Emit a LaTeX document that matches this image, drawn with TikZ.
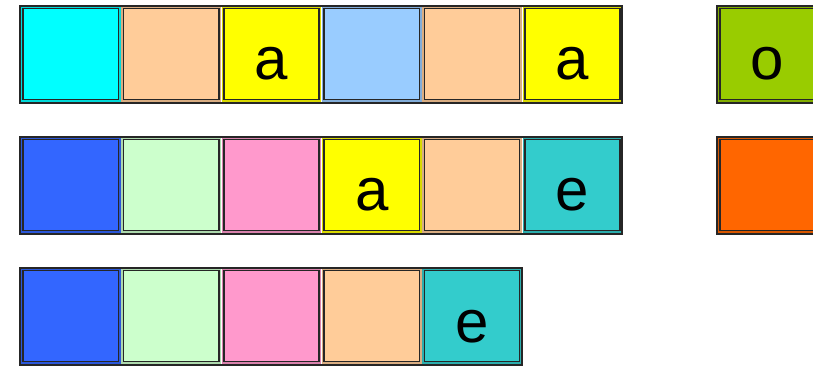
\documentclass[tikz,border=0pt]{standalone}
\usepackage{fontspec}
\setmainfont{Liberation Sans}
\usetikzlibrary{positioning}

\definecolor{aqua}{HTML}{00FFFF}
\definecolor{peach}{HTML}{FFCC99}
\definecolor{lemon}{HTML}{FFFF00}
\definecolor{sky}{HTML}{99CCFF}
\definecolor{royal}{HTML}{3366FF}
\definecolor{mint}{HTML}{CCFFCC}
\definecolor{rose}{HTML}{FF99CC}
\definecolor{teal}{HTML}{33CCCC}
\definecolor{lime}{HTML}{99CC00}
\definecolor{tangerine}{HTML}{FF6600}
\definecolor{rim}{HTML}{262626}

\begin{document}
\begin{tikzpicture}[
  x=1pt, y=-1pt,
  node distance=5.1pt,
  cell/.style={draw=rim, line width=1.6pt, fill=#1, preaction={draw=#1!85!black, line width=4.4pt},
    minimum width=95.2pt, minimum height=90.8pt, outer sep=0pt, inner sep=0pt,
    text height=52pt, text depth=0pt, font=\fontsize{60}{66}\selectfont},
  frame/.style={draw=rim, line width=2pt}
]
  \useasboundingbox (0,0) rectangle (813,366);

  % first row
  \node[cell=aqua] (c11) at (70.8,54) {};
  \node[cell=peach, right=of c11] (c12) {};
  \node[cell=lemon, right=of c12] (c13) {a};
  \node[cell=sky, right=of c13] (c14) {};
  \node[cell=peach, right=of c14] (c15) {};
  \node[cell=lemon, right=of c15] (c16) {a};

  % second row
  \node[cell=royal] (c21) at (70.8,185) {};
  \node[cell=mint, right=of c21] (c22) {};
  \node[cell=rose, right=of c22] (c23) {};
  \node[cell=lemon, right=of c23] (c24) {a};
  \node[cell=peach, right=of c24] (c25) {};
  \node[cell=teal, right=of c25] (c26) {e};

  % third row
  \node[cell=royal] (c31) at (70.8,316) {};
  \node[cell=mint, right=of c31] (c32) {};
  \node[cell=rose, right=of c32] (c33) {};
  \node[cell=peach, right=of c33] (c34) {};
  \node[cell=teal, right=of c34] (c35) {e};

  % single cells on the right
  \node[cell=lime] (r1) at (767.6,54) {o};
  \node[cell=tangerine] (r2) at (767.6,185) {};

  % outlines round each group
  \draw[frame] ([shift={(-2.9,-2.9)}]c11.north west) rectangle ([shift={(2.2,3.6)}]c16.south east);
  \draw[frame] ([shift={(-2.9,-2.9)}]c21.north west) rectangle ([shift={(2.2,3.6)}]c26.south east);
  \draw[frame] ([shift={(-2.9,-2.9)}]c31.north west) rectangle ([shift={(2.2,3.6)}]c35.south east);
  \draw[frame] ([shift={(-2.9,-2.9)}]r1.north west) rectangle ([shift={(2.2,3.6)}]r1.south east);
  \draw[frame] ([shift={(-2.9,-2.9)}]r2.north west) rectangle ([shift={(2.2,3.6)}]r2.south east);
\end{tikzpicture}
\end{document}
